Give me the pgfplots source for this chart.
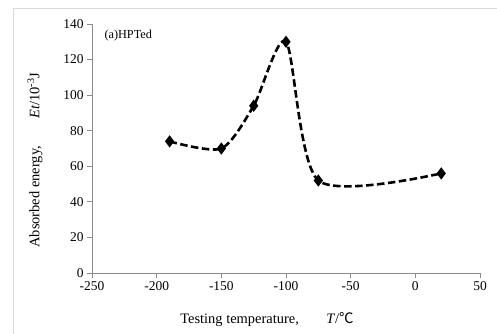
\documentclass[border=0pt]{standalone}
\usepackage{pgfplots}
\pgfplotsset{compat=1.18}
\usepackage{fontspec}
\setmainfont{Liberation Serif}
\newfontfamily\cjk{Noto Sans CJK SC}
\begin{document}
\begin{tikzpicture}[x=1bp,y=1bp]
\useasboundingbox (0,0) rectangle (497,333);
\draw[black!15, line width=1bp] (13,-5) -- (13,324) -- (505,324);
\begin{axis}[at={(92bp,60bp)}, anchor=south west, scale only axis,
  width=388bp, height=249bp,
  xmin=-250, xmax=50, ymin=0, ymax=140,
  xtick={-250,-200,...,50}, ytick={0,20,...,140},
  axis lines*=left,
  axis line style={draw=black!45, line width=0.9bp},
  tick style={draw=black!45, line width=0.9bp},
  tick align=outside, major tick length=5bp,
  tick label style={font=\fontsize{13.5}{15}\selectfont},
  /pgf/number format/assume math mode=true,
  clip=false]
\addplot[black, line width=2.6bp, dash pattern=on 7.5bp off 3.5bp, smooth, tension=0.45,
  mark=diamond*, mark size=4bp, mark options={solid}]
  coordinates {(-190,74) (-150,70) (-125,94) (-100,130) (-75,52) (20,56)};
\end{axis}
\node[anchor=west, font=\fontsize{12.3}{14}\selectfont] at (101,297) {(a)HPTed};
\node[font=\fontsize{14.5}{16}\selectfont] at (267,13.5) {Testing temperature,\hspace{1.9em}\textit{T}/{\cjk ℃}};
\node[rotate=90, font=\fontsize{14.5}{16}\selectfont] at (35,173) {Absorbed energy,\hspace{1.9em}\textit{Et}/10\textsuperscript{-3}J};
\end{tikzpicture}
\end{document}
